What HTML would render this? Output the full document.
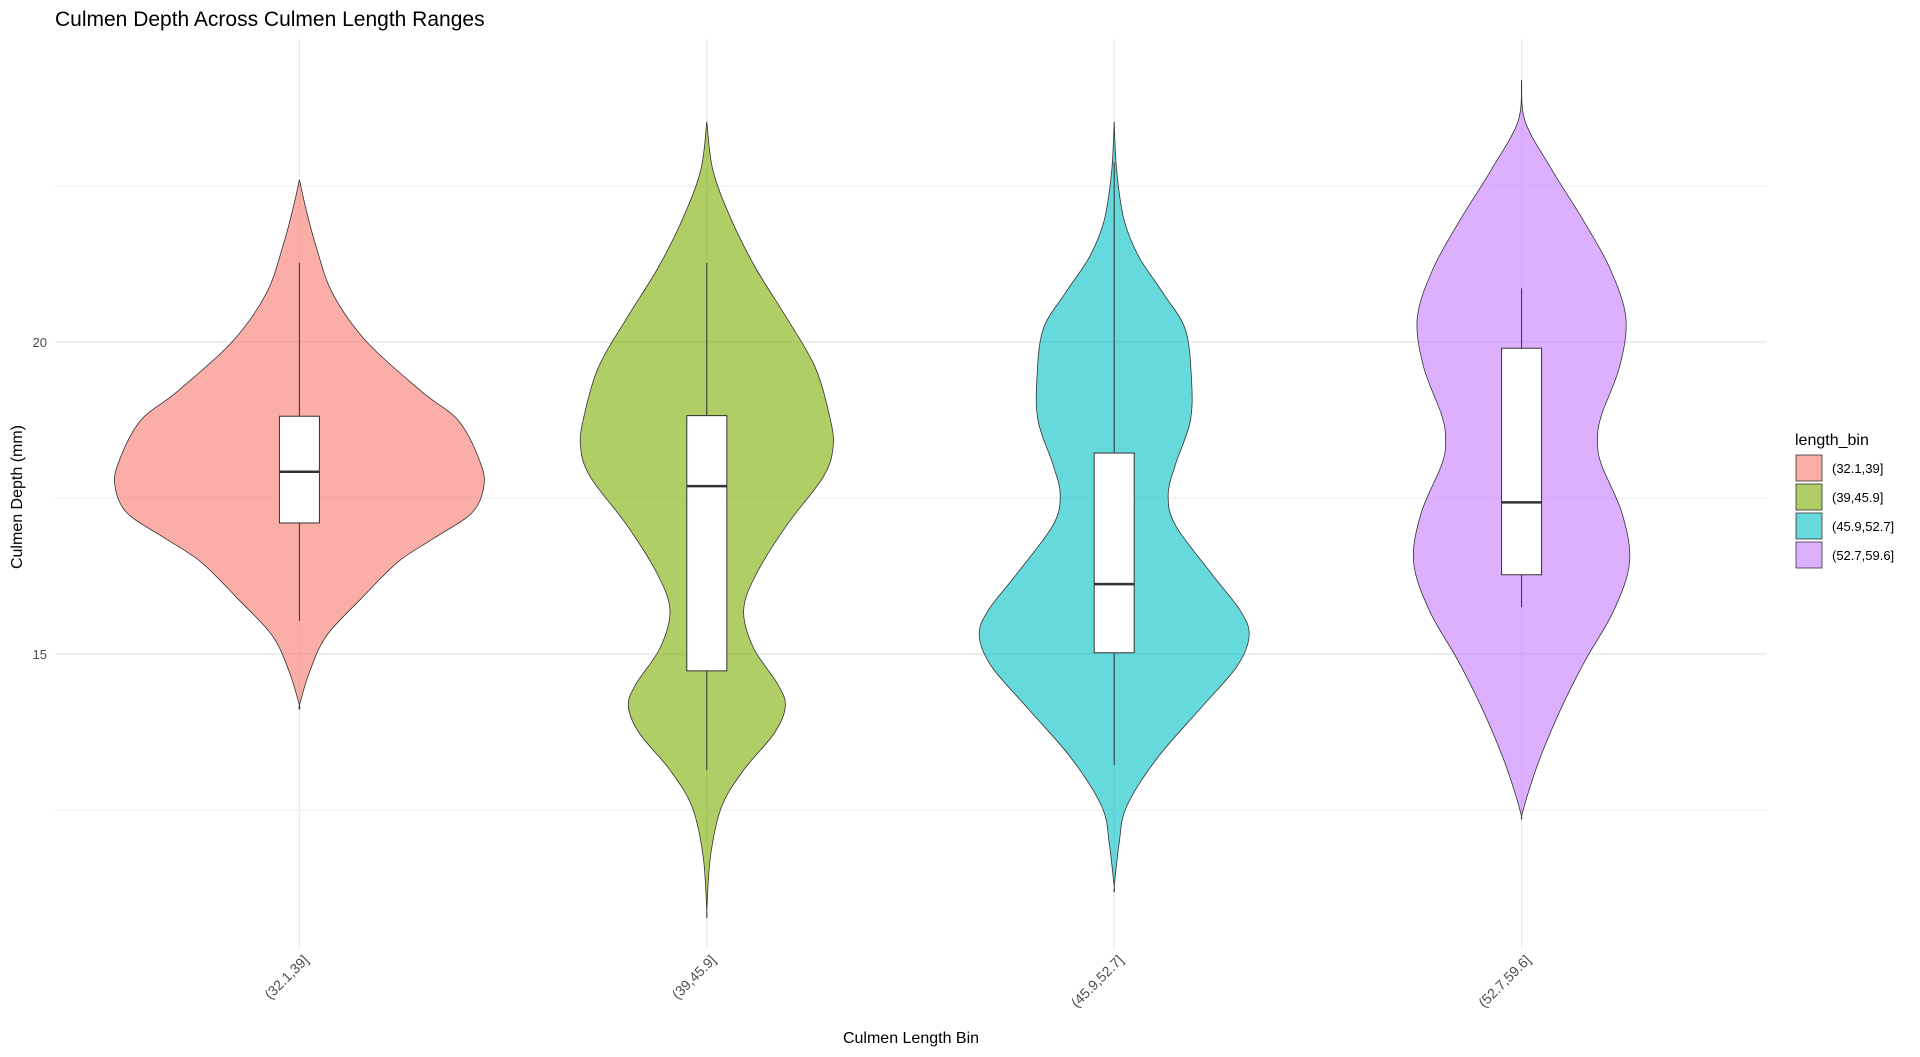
<!DOCTYPE html>
<html><head><meta charset="utf-8"><style>
html,body{margin:0;padding:0;background:#fff;}
svg{display:block;font-family:"Liberation Sans",Arial,sans-serif;}
</style></head><body>
<svg id="chart" width="1920" height="1057" viewBox="0 0 1920 1057">
<text x="55" y="26" font-size="21" fill="#000">Culmen Depth Across Culmen Length Ranges</text>
<g id="grid"></g>
<g id="marks"></g>
<g id="axes"></g>
<text x="911" y="1043" font-size="16" text-anchor="middle" fill="#000">Culmen Length Bin</text>
<text transform="translate(22,497) rotate(-90)" font-size="16" text-anchor="middle" fill="#000">Culmen Depth (mm)</text>
<g id="legend"></g>
</svg>
<script>
const categories = ["(32.1,39]","(39,45.9]","(45.9,52.7]","(52.7,59.6]"];
const colors = ["#F8766D","#7CAE00","#00BFC4","#C77CFF"];
const yTicks = [15,20];
const yMinor = [12.5,17.5,22.5];
// violin profiles: depth values and relative density (half-width) values
const depth1 = [22.6,22.16,21.57,20.78,20.0,19.2,18.73,18.04,17.65,17.25,16.86,16.47,15.88,15.29,14.7,14.18];
const dens1  = [0,5,13,27,55,100,130,148,150,140,110,80,50,22,8,0];
const depth2 = [23.53,22.75,21.96,21.18,20.39,19.61,18.82,18.33,17.84,17.06,16.27,15.69,15.1,14.51,14.16,13.73,13.14,12.55,11.76,10.88];
const dens2  = [0,5,20,40,65,88,100,103,95,65,40,30,38,58,64,55,30,12,3,0];
const depth3 = [23.53,22.75,21.96,21.37,20.78,20.2,19.41,18.73,18.04,17.55,17.06,16.27,15.69,15.29,14.8,14.12,13.33,12.55,11.96,11.27];
const dens3  = [0,2,8,20,40,58,63,62,50,44,50,80,103,110,100,70,35,10,4,0];
const depth4 = [24.2,23.53,22.75,21.96,21.18,20.39,19.61,18.82,18.43,18.04,17.25,16.47,15.69,14.9,14.12,13.33,12.75,12.4];
const dens4  = [0,3,25,50,72,85,80,65,62,65,82,88,75,52,32,15,5,0];
const boxLow   = [17.1,14.73,15.02,16.27];
const boxMed   = [17.92,17.69,16.12,17.43];
const boxHigh  = [18.81,18.82,18.22,19.9];
const whiskLow = [15.53,13.14,13.22,15.75];
const whiskHigh= [21.27,21.27,22.88,20.86];

const NS="http://www.w3.org/2000/svg";
const L=55,R=1766,T=39,B=949;
const y=v=>342+(20-v)*62.4;
const x=i=>L+(i+0.6)*((R-L)/4.2);
const wScale=184/150;
function mk(tag,attrs,parent){const e=document.createElementNS(NS,tag);for(const k in attrs)e.setAttribute(k,attrs[k]);parent.appendChild(e);return e;}
const grid=document.getElementById('grid'),marks=document.getElementById('marks'),axes=document.getElementById('axes'),legend=document.getElementById('legend');
yMinor.forEach(v=>{const l=mk('line',{x1:L,x2:R,y1:y(v),y2:y(v),stroke:'#ebebeb','stroke-width':1},grid);

});
yTicks.forEach(v=>{const l=mk('line',{x1:L,x2:R,y1:y(v),y2:y(v),stroke:'#e5e5e5','stroke-width':1.3},grid);


const t=mk('text',{x:47,y:y(v)+5,'font-size':13,'text-anchor':'end',fill:'#4d4d4d'},axes);t.textContent=v;

});
categories.forEach((c,i)=>{const l=mk('line',{x1:x(i),x2:x(i),y1:T,y2:B,stroke:'#ebebeb','stroke-width':1.3},grid);


const t=mk('text',{transform:`translate(${x(i)+10},${B+12}) rotate(-45)`,'font-size':14,'text-anchor':'end',fill:'#4d4d4d'},axes);t.textContent=c;

});
const depths=[depth1,depth2,depth3,depth4],dens=[dens1,dens2,dens3,dens4];
depths.forEach((ds,i)=>{const cx=x(i);let pts=[];
ds.forEach((d,j)=>pts.push([cx+dens[i][j]*wScale,y(d)]));
for(let j=ds.length-1;j>=0;j--)pts.push([cx-dens[i][j]*wScale,y(ds[j])]);
let p=`M${pts[0][0]},${pts[0][1]}`;
for(let k=0;k<pts.length-1;k++){const p0=pts[Math.max(k-1,0)],p1=pts[k],p2=pts[k+1],p3=pts[Math.min(k+2,pts.length-1)];
p+=` C${p1[0]+(p2[0]-p0[0])/6},${p1[1]+(p2[1]-p0[1])/6} ${p2[0]-(p3[0]-p1[0])/6},${p2[1]-(p3[1]-p1[1])/6} ${p2[0]},${p2[1]}`;}
p+='Z';
const v=mk('path',{d:p,fill:colors[i],'fill-opacity':0.6,stroke:'#333','stroke-width':0.8},marks);


const w=mk('line',{x1:cx,x2:cx,y1:y(whiskHigh[i]),y2:y(whiskLow[i]),stroke:'#333','stroke-width':1},marks);


const b=mk('rect',{x:cx-20,y:y(boxHigh[i]),width:40,height:y(boxLow[i])-y(boxHigh[i]),fill:'#fff',stroke:'#333','stroke-width':1},marks);


const m=mk('line',{x1:cx-20,x2:cx+20,y1:y(boxMed[i]),y2:y(boxMed[i]),stroke:'#333','stroke-width':2.5},marks);

});
const lt=mk('text',{x:1795,y:445,'font-size':16,fill:'#000'},legend);lt.textContent='length_bin';


categories.forEach((c,i)=>{const ky=455+i*29;
const r=mk('rect',{x:1796,y:ky,width:26,height:26,fill:colors[i],'fill-opacity':0.6,stroke:'#333','stroke-width':0.8},legend);


const t=mk('text',{x:1832,y:ky+18,'font-size':13,fill:'#000'},legend);t.textContent=c;

});
</script>
</body></html>
